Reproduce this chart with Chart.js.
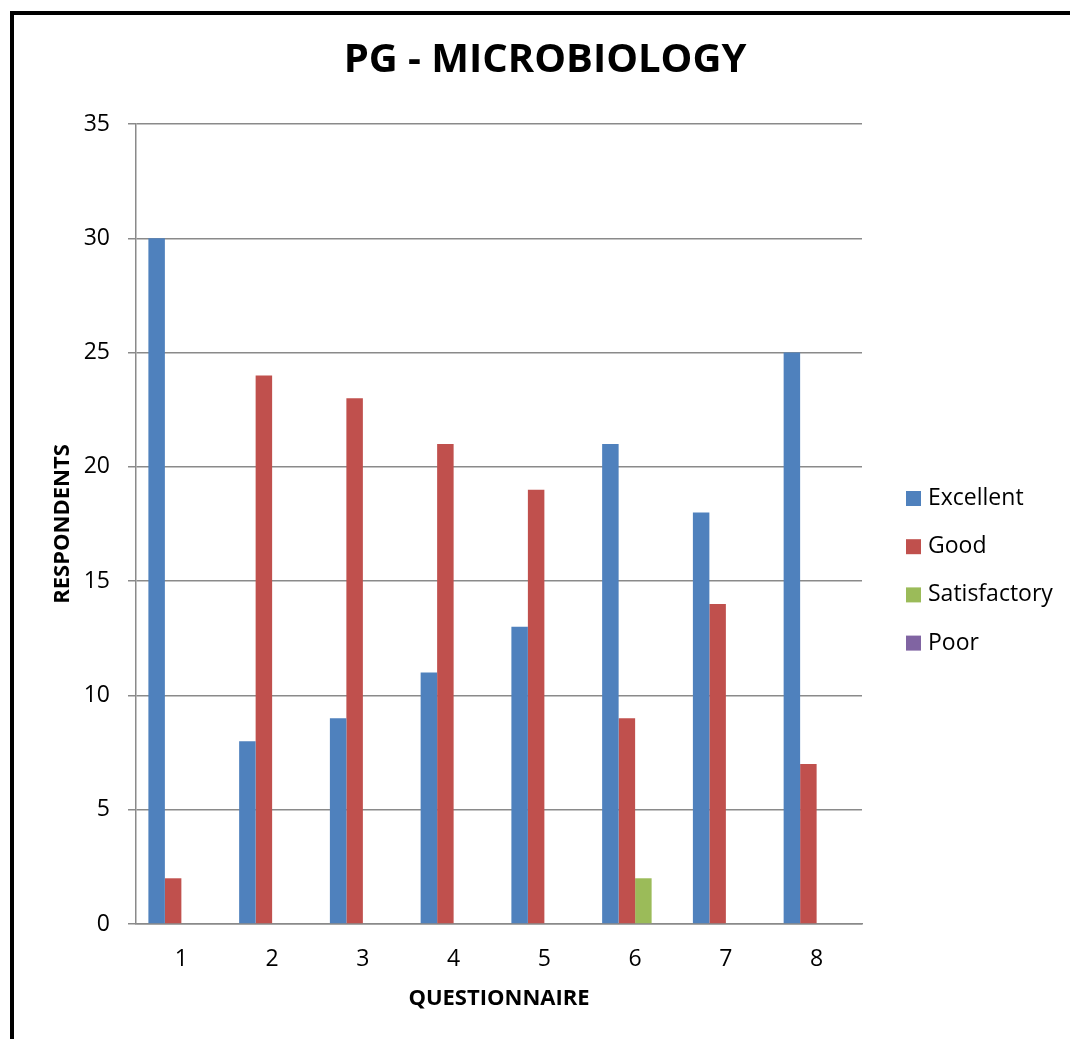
<!DOCTYPE html>
<html>
<head>
<meta charset="utf-8">
<title>PG - MICROBIOLOGY</title>
<script src="https://cdn.jsdelivr.net/npm/chart.js@4.4.0/dist/chart.umd.min.js"></script>
<style>
  body { margin: 0; background: #fff; }
  #wrap { position: relative; width: 1070px; height: 1039px; overflow: hidden; }
  #frame {
    position: absolute; left: 10px; top: 11px; width: 1200px; height: 1200px;
    border-left: 4px solid #000; border-top: 4px solid #000;
  }
  #myChart { position: absolute; left: 0; top: 0; }
</style>
</head>
<body>
<div id="wrap">
  <div id="frame"></div>
  <canvas id="myChart" width="1070" height="1039"></canvas>
</div>
<script>
// data
const questions = ["1", "2", "3", "4", "5", "6", "7", "8"];
const excellent = [30, 8, 9, 11, 13, 21, 18, 25];
const good = [2, 24, 23, 21, 19, 9, 14, 7];
const satisfactory = [0, 0, 0, 0, 0, 2, 0, 0];
const poor = [0, 0, 0, 0, 0, 0, 0, 0];
const seriesNames = ["Excellent", "Good", "Satisfactory", "Poor"];
const seriesColors = ["#4F81BD", "#C0504D", "#9BBB59", "#8064A2"];
const yMax = 35;
const yStep = 5;

const FONT = "'Open Sans', 'Liberation Sans', sans-serif";
const gridColor = "#8a8a8a";

//legend on the right, drawn by hand so it sits where Excel put it
const sideLegend = {
  id: "sideLegend",
  afterDraw(chart) {
    const ctx = chart.ctx;
    const area = chart.chartArea;
    ctx.save();
    ctx.font = "23px " + FONT;
    ctx.textBaseline = "middle";
    ctx.textAlign = "left";
    chart.data.datasets.forEach((ds, i) => {
      const y = area.top + 374.5 + i * 48.2;
      ctx.fillStyle = ds.backgroundColor;
      ctx.fillRect(area.right + 44, y - 7.5, 15, 15);
      ctx.fillStyle = "#000";
      ctx.fillText(ds.label, area.right + 66, y);
    });
    ctx.restore();
  },
};

const datasets = [excellent, good, satisfactory, poor].map((vals, i) => ({
  label: seriesNames[i],
  data: vals,
  backgroundColor: seriesColors[i],
  borderWidth: 0,
  categoryPercentage: 0.727,
  barPercentage: 1.0,
}));

new Chart("myChart", {
  type: "bar",
  data: { labels: questions, datasets: datasets },
  plugins: [sideLegend],
  options: {
    responsive: false,
    animation: false,
    layout: { padding: { left: 20, right: 0, top: 0, bottom: 27 } },
    plugins: {
      legend: { display: false },
      tooltip: { enabled: false },
      title: {
        display: true,
        text: "PG - MICROBIOLOGY",
        color: "#000",
        font: { family: FONT, size: 40, weight: "bold", lineHeight: 1.2 },
        padding: { top: 37, bottom: 39 },
      },
    },
    scales: {
      x: {
        grid: { display: false, drawTicks: false },
        border: { display: true, color: gridColor, width: 1.5 },
        ticks: { color: "#000", padding: 22, font: { family: FONT, size: 23 } },
        title: {
          display: true,
          text: "QUESTIONNAIRE",
          color: "#000",
          font: { family: FONT, size: 22, weight: "bold", lineHeight: 1.2 },
          padding: { top: 0, bottom: 0 },
        },
        afterFit: (s) => { s.height = 88; },
      },
      y: {
        min: 0,
        max: yMax,
        ticks: { stepSize: yStep, color: "#000", padding: 18, font: { family: FONT, size: 23 } },
        grid: { color: gridColor, lineWidth: 1.5, tickLength: 8, drawTicks: true },
        border: { display: true, color: gridColor, width: 1.5 },
        title: {
          display: true,
          text: "RESPONDENTS",
          color: "#000",
          font: { family: FONT, size: 22, weight: "bold", lineHeight: 1.2 },
          padding: { top: 30 },
        },
        afterFit: (s) => { s.width = 116; },
      },
      // empty axis on the right only to keep room for the legend
      side: {
        type: "linear",
        position: "right",
        min: 0,
        max: 1,
        grid: { display: false },
        border: { display: false },
        ticks: { display: false },
        afterFit: (s) => { s.width = 208; },
      },
    },
  },
});
</script>
</body>
</html>
